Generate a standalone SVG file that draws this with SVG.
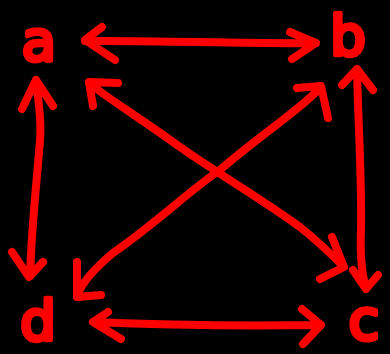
<svg xmlns="http://www.w3.org/2000/svg" width="390" height="354" viewBox="0 0 390 354">
<style>
.s{fill:none;stroke:#ff0000;stroke-width:8;stroke-linecap:round;stroke-linejoin:round}
.t{font-family:"DejaVu Sans","Liberation Sans",sans-serif;font-size:56px;fill:#ff0000;stroke:#ff0000;stroke-width:4.5;stroke-linejoin:round;text-anchor:middle}
</style>
<rect width="390" height="354" fill="#000"/>
<g id="node-a"><text class="t" x="39" y="60">a</text></g>
<g id="node-b"><text class="t" x="348" y="55">b</text></g>
<g id="node-c"><text class="t" x="364" y="339">c</text></g>
<g id="node-d"><text class="t" x="38" y="340">d</text></g>
<g id="connectors">
<path class="s" d="M85 41 C150 40 250 44 316 43 M102 27 L85 40 L115 60 M290 32 L316 43 L292 59"/>
<path class="s" d="M93 322 C160 325 250 326 321 325 M108 312 L93 322 L121 339 M302 309 L321 325 L303 344"/>
<path class="s" d="M36 80 C38 100 42 120 40 140 C37 180 32 220 30 276 M22 109 L36 80 L53 106 M12 252 L29 277 L43 262"/>
<path class="s" d="M357 69 C358 120 362 180 361 230 C360 255 362 275 366 288 M342 85 L357 69 L373 90 M353 270 L366 289 L378 275"/>
<path class="s" d="M89 83 C110 100 140 118 180 147 C220 175 260 198 300 227 C320 243 333 256 344 267 M118 83 L89 82 L93 106 M332 237 L344 267 L320 279"/>
<path class="s" d="M320 88 C300 110 260 135 220 170 C190 190 160 220 113 253 C95 268 82 282 77 296 M297 88 L321 86 L328 118 M77 262 L77 297 L101 295"/>
</g>
</svg>
